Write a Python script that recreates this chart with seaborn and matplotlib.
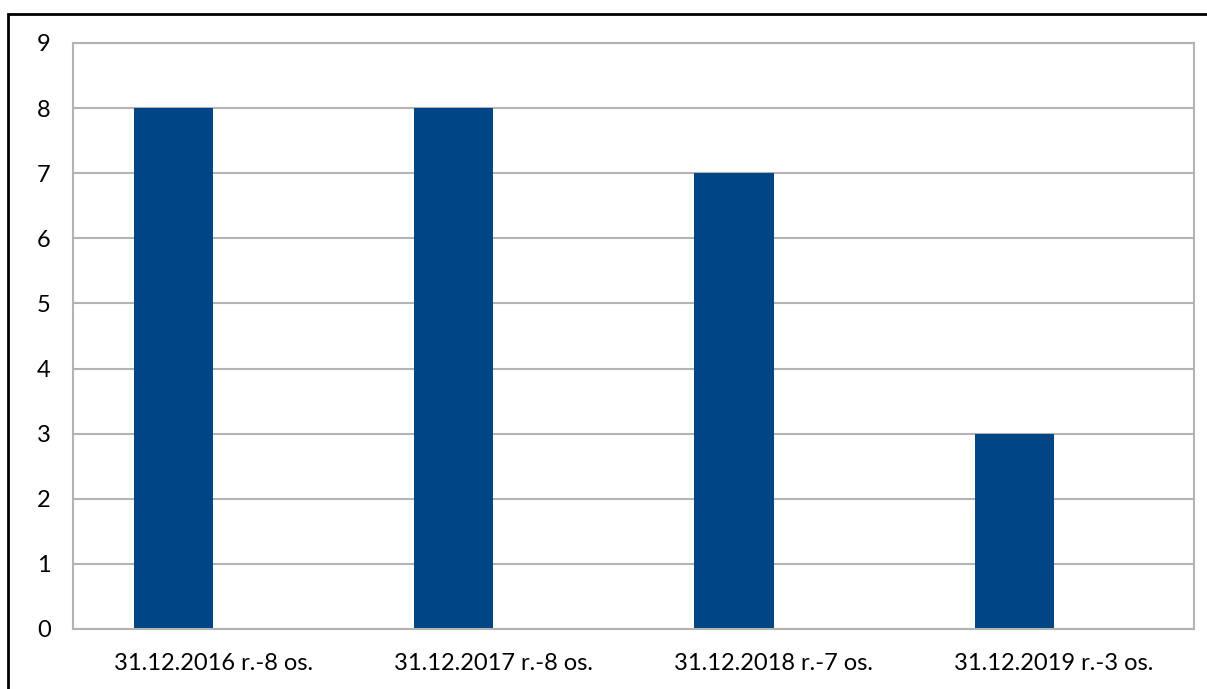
import seaborn as sns
import matplotlib.pyplot as plt
import matplotlib.patches as mpatches
import pandas as pd

# Data
categories = ["31.12.2016 r.-8 os.", "31.12.2017 r.-8 os.", "31.12.2018 r.-7 os.", "31.12.2019 r.-3 os."]
values = [8, 8, 7, 3]
empty_series = [0, 0, 0, 0]  # second (empty) series that shifts the bars left
y_ticks = list(range(0, 10))

df = pd.DataFrame({
    "category": categories * 2,
    "value": values + empty_series,
    "series": ["os."] * 4 + ["pusta"] * 4,
})

sns.set_style("white")
plt.rcParams["font.family"] = ["Lato", "DejaVu Sans"]

fig = plt.figure(figsize=(12.07, 6.89), dpi=100)
ax = fig.add_axes([0.0605, 0.0871, 0.9287, 0.8505])

sns.barplot(data=df, x="category", y="value", hue="series", order=categories,
            palette=["#004586", "#004586"], width=0.565, dodge=True,
            saturation=1, legend=False, linewidth=0, ax=ax)

ax.set_ylim(0, 9)
ax.set_xlim(-0.5, 3.5)
ax.set_yticks(y_ticks)
ax.set_axisbelow(True)
ax.yaxis.grid(True, color="#b3b3b3", linewidth=1.5)
for s in ax.spines.values():
    s.set_visible(True)
    s.set_color("#b3b3b3")
    s.set_linewidth(1.5)
ax.tick_params(axis="both", length=0, labelsize=17, colors="black")
ax.tick_params(axis="y", pad=16)
ax.tick_params(axis="x", pad=17)
ax.set_xlabel("")
ax.set_ylabel("")

# outer black frame (only top and left visible)
fig.add_artist(mpatches.Rectangle((7.5 / 1207, -0.1), 1.2, 1 - 13.5 / 689 + 0.1,
                                  transform=fig.transFigure, fill=False,
                                  edgecolor="black", linewidth=2))

fig.savefig("out.png", dpi=100)
